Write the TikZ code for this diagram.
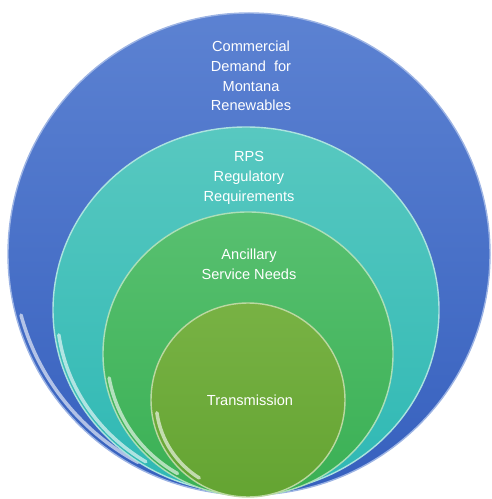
\documentclass[tikz,border=0pt]{standalone}
\usepackage{fontspec}
\setmainfont{Liberation Sans}
\definecolor{demandtop}{RGB}{92,130,210}
\definecolor{demandbot}{RGB}{54,96,190}
\definecolor{rpstop}{RGB}{88,200,192}
\definecolor{rpsbot}{RGB}{46,184,180}
\definecolor{ancitop}{RGB}{88,192,112}
\definecolor{ancibot}{RGB}{58,176,84}
\definecolor{transtop}{RGB}{120,178,68}
\definecolor{transbot}{RGB}{100,164,50}
\tikzset{
  label text/.style={text=white, align=center, font=\fontsize{8.3}{11.3}\selectfont},
  gloss/.style={white, line width=2pt, line cap=round, opacity=0.6},
  rim/.style={line width=0.8pt}
}
\begin{document}
\begin{tikzpicture}[x=0.02cm, y=-0.02cm]
	\useasboundingbox (0,0) rectangle (491,499);
	\shade[top color=demandtop, bottom color=demandbot] (249,254) ellipse[x radius=241, y radius=241];
	\draw[rim, demandtop!60!white] (249,254) ellipse[x radius=241, y radius=241];
	\draw[gloss] (249,254) ++(118:236 and 236) arc[start angle=118, end angle=165, x radius=236, y radius=236];
	\shade[top color=rpstop, bottom color=rpsbot] (246,310) ellipse[x radius=193, y radius=183];
	\draw[rim, rpstop!50!white] (246,310) ellipse[x radius=193, y radius=183];
	\draw[gloss] (246,310) ++(122:189 and 179) arc[start angle=122, end angle=172, x radius=189, y radius=179];
	\shade[top color=ancitop, bottom color=ancibot] (248,354) ellipse[x radius=145, y radius=142];
	\draw[rim, ancitop!50!white] (248,354) ellipse[x radius=145, y radius=142];
	\draw[gloss] (248,354) ++(120:141 and 138) arc[start angle=120, end angle=170, x radius=141, y radius=138];
	\shade[top color=transtop, bottom color=transbot] (248,400) ellipse[x radius=97, y radius=97];
	\draw[rim, transtop!50!white] (248,400) ellipse[x radius=97, y radius=97];
	\draw[gloss] (248,400) ++(122:92 and 92) arc[start angle=122, end angle=172, x radius=92, y radius=92];
	\node[label text] (demand) at (251,76) {Commercial\\Demand\ \ for\\Montana\\Renewables};
	\node[label text] (rps) at (249,178) {RPS\\Regulatory\\Requirements};
	\node[label text] (ancillary) at (249,264) {Ancillary\\Service Needs};
	\node[label text] (transmission) at (250,400) {Transmission};
\end{tikzpicture}
\end{document}
